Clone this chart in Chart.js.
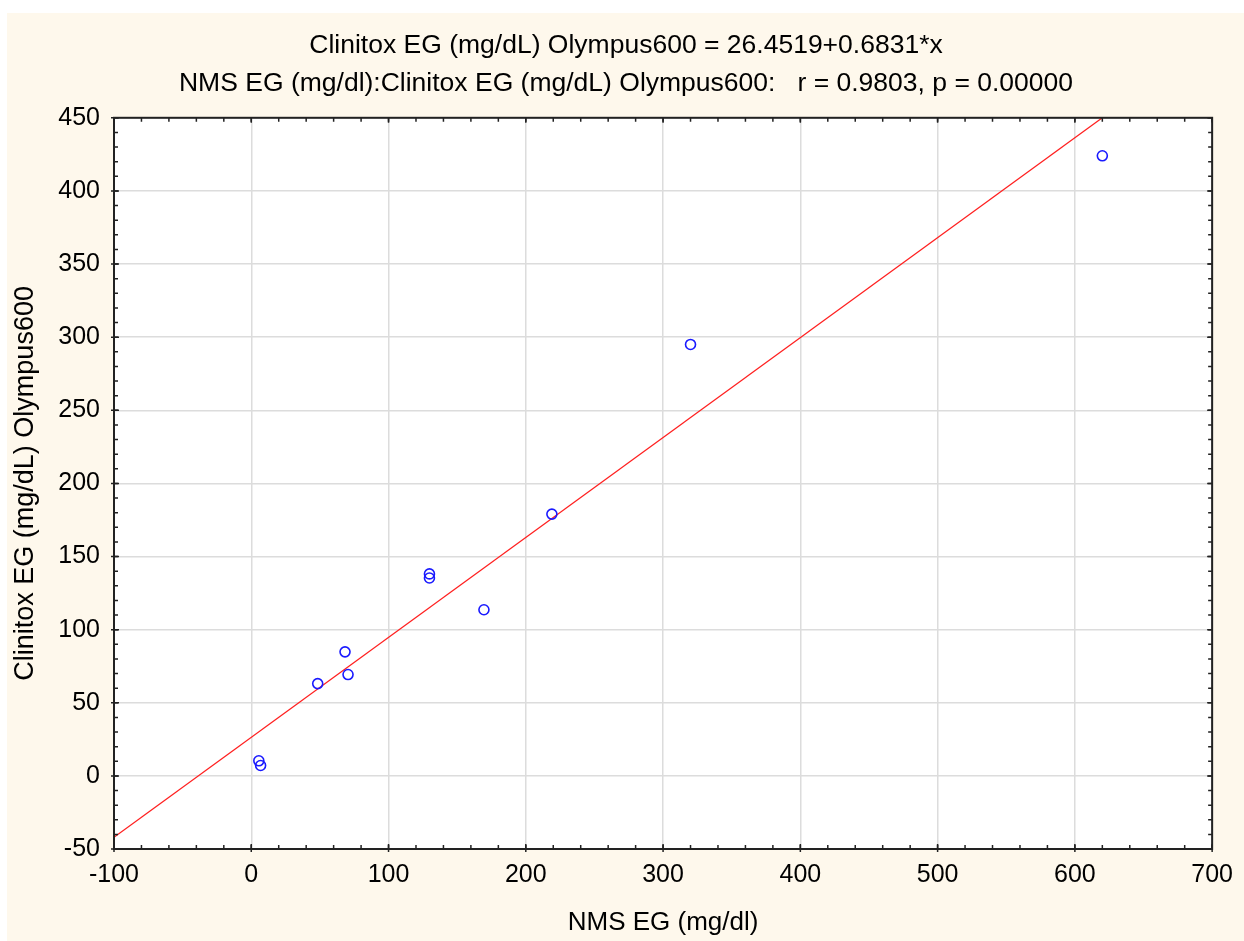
<!DOCTYPE html>
<html>
<head>
<meta charset="utf-8">
<script src="https://cdn.jsdelivr.net/npm/chart.js@4"></script>
<style>
  html, body { margin: 0; padding: 0; background: #fff; }
  canvas { display: block; }
</style>
</head>
<body>
<canvas id="scatterChart" width="1244" height="941"></canvas>
<script>
// values
const nmsEG = [5.5, 6.8, 48.4, 68.3, 70.5, 129.8, 129.8, 169.5, 219, 320, 620];
const clinitoxEG = [10.3, 7.1, 63.1, 84.8, 69.3, 138.1, 135.3, 113.6, 179, 295, 424];
// fitted line end points as drawn
const fitX = [-100, 620];
const fitY = [-42, 450];

const titleLines = [
  "Clinitox EG (mg/dL) Olympus600 = 26.4519+0.6831*x",
  "NMS EG (mg/dl):Clinitox EG (mg/dL) Olympus600:   r = 0.9803, p = 0.00000",
];
const xTitle = "NMS EG (mg/dl)";
const yTitle = "Clinitox EG (mg/dL) Olympus600";

const FONT = "'Liberation Sans', Arial, sans-serif";
const cream = "#fef8ec";

const backgroundPlugin = {
  id: "background",
  beforeDraw(chart) {
    const { ctx, chartArea } = chart;
    ctx.save();
    ctx.fillStyle = "#ffffff";
    ctx.fillRect(0, 0, chart.width, chart.height);
    ctx.fillStyle = cream;
    ctx.fillRect(7, 13, chart.width - 7, chart.height - 13);
    ctx.fillStyle = "#ffffff";
    ctx.fillRect(chartArea.left, chartArea.top, chartArea.right - chartArea.left, chartArea.bottom - chartArea.top);
    ctx.restore();
  },
};

function drawTicks(ctx, scale, step, len, out) {
  const area = scale.chart.chartArea;
  for (let v = scale.min; v <= scale.max + 1e-9; v += step) {
    const p = scale.getPixelForValue(v);
    ctx.beginPath();
    if (scale.axis === "x") {
      ctx.moveTo(p, area.bottom + out);
      ctx.lineTo(p, area.bottom - len);
      ctx.moveTo(p, area.top);
      ctx.lineTo(p, area.top + len);
    } else {
      ctx.moveTo(area.left - out, p);
      ctx.lineTo(area.left + len, p);
      ctx.moveTo(area.right, p);
      ctx.lineTo(area.right - len, p);
    }
    ctx.stroke();
  }
}

const framePlugin = {
  id: "frame",
  afterDatasetsDraw(chart) {
    const { ctx, chartArea, scales } = chart;
    ctx.save();
    ctx.strokeStyle = "#222";
    ctx.lineWidth = 1.5;
    drawTicks(ctx, scales.x, 20, 4, 0);
    drawTicks(ctx, scales.y, 10, 4, 0);
    drawTicks(ctx, scales.x, 100, 5, 3);
    drawTicks(ctx, scales.y, 50, 5, 3);
    ctx.lineWidth = 2;
    ctx.strokeRect(chartArea.left, chartArea.top, chartArea.right - chartArea.left, chartArea.bottom - chartArea.top);
    ctx.restore();
  },
};

const ctx = document.getElementById("scatterChart");
new Chart(ctx, {
  type: "scatter",
  data: {
    datasets: [
      {
        label: "data",
        data: nmsEG.map((x, i) => ({ x: x, y: clinitoxEG[i] })),
        pointStyle: "circle",
        pointRadius: 5,
        borderColor: "#1a1aff",
        backgroundColor: "rgba(0,0,0,0)",
        borderWidth: 1.6,
      },
      {
        type: "line",
        label: "fit",
        data: fitX.map((x, i) => ({ x: x, y: fitY[i] })),
        borderColor: "#ff2020",
        borderWidth: 1.3,
        pointRadius: 0,
        fill: false,
      },
    ],
  },
  options: {
    responsive: false,
    animation: false,
    devicePixelRatio: 1,
    layout: { padding: { left: 38, right: 30, top: 0, bottom: 0 } },
    plugins: {
      legend: { display: false },
      tooltip: { enabled: false },
      title: {
        display: true,
        text: titleLines,
        color: "#000",
        font: { family: FONT, size: 26.5, weight: "normal", lineHeight: 1.43 },
        padding: { top: 27, bottom: 15 },
      },
    },
    scales: {
      x: {
        type: "linear",
        min: -100,
        max: 700,
        border: { display: false },
        grid: { color: "#dcdcdc", lineWidth: 1.5, drawTicks: false },
        ticks: {
          stepSize: 100,
          color: "#000",
          padding: 11,
          font: { family: FONT, size: 25 },
        },
        title: {
          display: true,
          text: xTitle,
          color: "#000",
          font: { family: FONT, size: 26 },
          padding: { top: 0, bottom: 3 },
        },
        afterFit(scale) {
          scale.height = 92;
        },
      },
      y: {
        type: "linear",
        min: -50,
        max: 450,
        border: { display: false },
        grid: { color: "#dcdcdc", lineWidth: 1.5, drawTicks: false },
        ticks: {
          stepSize: 50,
          color: "#000",
          padding: 14,
          font: { family: FONT, size: 25 },
        },
        title: {
          display: true,
          text: yTitle,
          color: "#000",
          font: { family: FONT, size: 27 },
          padding: { top: -29, bottom: 0 },
        },
        afterFit(scale) {
          scale.width = 76;
        },
      },
    },
  },
  plugins: [backgroundPlugin, framePlugin],
});
</script>
</body>
</html>
